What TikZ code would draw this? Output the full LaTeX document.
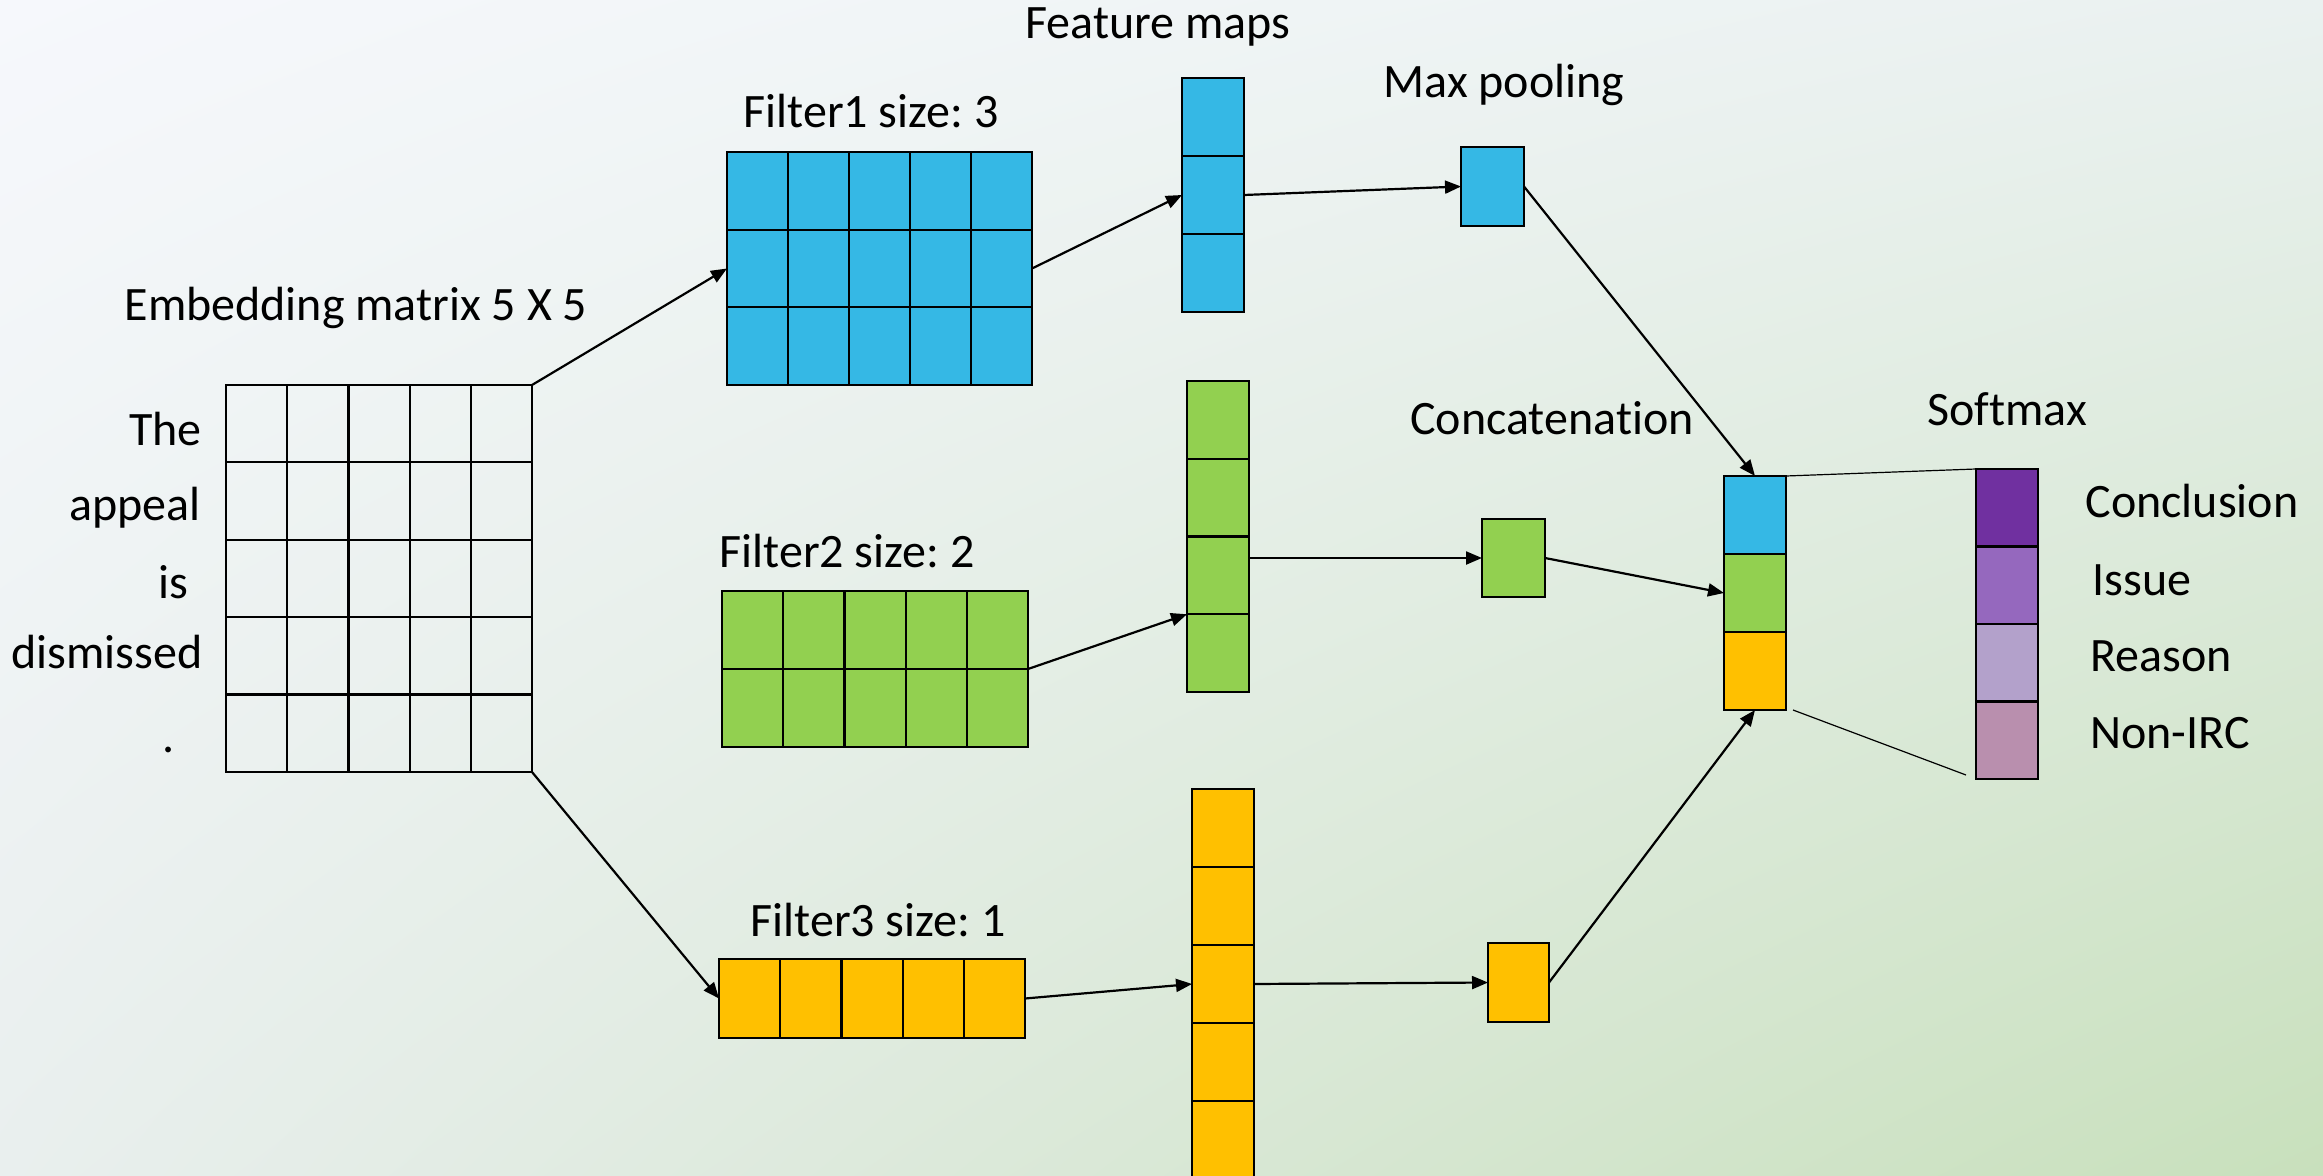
\documentclass[tikz,border=0pt]{standalone}
\usepackage{fontspec}
\setmainfont{Carlito}[Ligatures=NoCommon]
\usetikzlibrary{calc,arrows.meta,shadings}
\definecolor{bgUL}{HTML}{F6F8FC}
\definecolor{bgUR}{HTML}{EAF1F0}
\definecolor{bgLL}{HTML}{E9EFEE}
\definecolor{bgLR}{HTML}{C8E0BC}
\definecolor{cblue}{HTML}{35B8E5}
\definecolor{cgreen}{HTML}{92D050}
\definecolor{corange}{HTML}{FFC000}
\definecolor{cpurA}{HTML}{7030A0}
\definecolor{cpurB}{HTML}{9568BE}
\definecolor{cpurC}{HTML}{B3A1CB}
\definecolor{cpurD}{HTML}{B98FAE}
\frenchspacing
\newcommand\cellgrid[3]{%
  \foreach \k in {0,...,#2}
    \draw[gridline] ($(#1.north west)!\k/#2!(#1.north east)$) -- ($(#1.south west)!\k/#2!(#1.south east)$);
  \foreach \k in {0,...,#3}
    \draw[gridline] ($(#1.north west)!\k/#3!(#1.south west)$) -- ($(#1.north east)!\k/#3!(#1.south east)$);
}
\newcommand\stackcell[4]{% node, index(0-based), count, colour
  \fill[#4] ($(#1.north west)!#2/#3!(#1.south west)$) rectangle ($(#1.north east)!{(#2+1)/#3}!(#1.south east)$);
}
\begin{document}
\begin{tikzpicture}[x=0.5pt,y=-0.5pt,
  blockbox/.style={inner sep=0pt, outer sep=0pt, draw=none},
  gridline/.style={line width=1.1pt, line cap=rect, black},
  arr/.style={line width=1.1pt, -{Triangle[length=8pt,width=6.5pt]}},
  thinline/.style={line width=0.6pt},
  lbl/.style={inner sep=0pt, font=\fontsize{24pt}{28pt}\selectfont}]
\useasboundingbox (0,0) rectangle (2323,1176);
\clip (0,0) rectangle (2323,1176);
\shade[upper left=bgUL, upper right=bgUR, lower left=bgLL, lower right=bgLR] (0,0) rectangle (2323,1176);

% blocks
\node[blockbox, minimum width=153pt, minimum height=193.5pt] (emb) at (379,578.5) {};
\node[blockbox, fill=cblue, minimum width=152.5pt, minimum height=116.5pt] (f1) at (879.5,268.5) {};
\node[blockbox, fill=cgreen, minimum width=153pt, minimum height=78pt] (f2) at (875,669) {};
\node[blockbox, fill=corange, minimum width=153pt, minimum height=39.5pt] (f3) at (872,998.5) {};
\node[blockbox, fill=cblue, minimum width=31pt, minimum height=117pt] (fm1) at (1213,195) {};
\node[blockbox, fill=cgreen, minimum width=31pt, minimum height=155.5pt] (fm2) at (1218,536.5) {};
\node[blockbox, fill=corange, minimum width=31pt, minimum height=195pt] (fm3) at (1223,984) {};
\node[blockbox, fill=cblue, minimum width=31.5pt, minimum height=39.5pt] (pool1) at (1492.5,186.5) {};
\node[blockbox, fill=cgreen, minimum width=31.5pt, minimum height=39pt] (pool2) at (1513.5,558) {};
\node[blockbox, fill=corange, minimum width=30.5pt, minimum height=39.5pt] (pool3) at (1518.5,982.5) {};
\node[blockbox, minimum width=31pt, minimum height=117pt] (concat) at (1755,593) {};
\node[blockbox, minimum width=31pt, minimum height=155pt] (soft) at (2007,624) {};

\stackcell{concat}{0}{3}{cblue}
\stackcell{concat}{1}{3}{cgreen}
\stackcell{concat}{2}{3}{corange}
\stackcell{soft}{0}{4}{cpurA}
\stackcell{soft}{1}{4}{cpurB}
\stackcell{soft}{2}{4}{cpurC}
\stackcell{soft}{3}{4}{cpurD}

\cellgrid{emb}{5}{5}
\cellgrid{f1}{5}{3}
\cellgrid{f2}{5}{2}
\cellgrid{f3}{5}{1}
\cellgrid{fm1}{1}{3}
\cellgrid{fm2}{1}{4}
\cellgrid{fm3}{1}{5}
\cellgrid{pool1}{1}{1}
\cellgrid{pool2}{1}{1}
\cellgrid{pool3}{1}{1}
\cellgrid{concat}{1}{3}
\cellgrid{soft}{1}{4}

% connectors
\draw[arr] (emb.north east) -- (f1.west);
\draw[arr] (emb.south east) -- (f3.west);
\draw[arr] (f1.east) -- (fm1.west);
\draw[arr] (f2.east) -- ($(fm2.south west)!0.25!(fm2.north west)$);
\draw[arr] (f3.east) -- (fm3.west);
\draw[arr] (fm1.east) -- (pool1.west);
\draw[arr] (fm2.east |- pool2.west) -- (pool2.west);
\draw[arr] (fm3.east) -- (pool3.west);
\draw[arr] (pool1.east) -- (concat.north);
\draw[arr] (pool2.east) -- (concat.west);
\draw[arr] (pool3.east) -- (concat.south);
\draw[thinline] (concat.north east) -- (soft.north west);
\draw[thinline] ($(concat.south east)+(7,0)$) -- ($(soft.south west)+(-10,-4)$);

% labels
\node[lbl, anchor=base] (tfeat) at (1158,39) {Feature maps};
\node[lbl, anchor=base] (tf1) at (871,128) {Filter1 size: 3};
\node[lbl, anchor=base] (temb) at (356,321) {Embedding matrix 5 X 5};
\node[lbl, anchor=base] (tf2) at (847,567) {Filter2 size: 2};
\node[lbl, anchor=base] (tf3) at (878,936) {Filter3 size: 1};
\node[lbl, anchor=base] (tpool) at (1504,98) {Max pooling};
\node[lbl, anchor=base] (tconc) at (1552,435) {Concatenat\kern0pt ion};
\node[lbl, anchor=base] (tsoft) at (2007,425) {Softmax};
\node[lbl, anchor=base west] (tc1) at (2085,517) {Conclusion};
\node[lbl, anchor=base west] (tc2) at (2092,595) {Issue};
\node[lbl, anchor=base west] (tc3) at (2090,671) {Reason};
\node[lbl, anchor=base west] (tc4) at (2090,748) {Non-IRC};
\node[lbl, anchor=base east] (w1) at (202,445) {The};
\node[lbl, anchor=base east] (w2) at (201,520) {appeal};
\node[lbl, anchor=base east] (w3) at (189,598) {is};
\node[lbl, anchor=base east] (w4) at (203,668) {dismissed};
\node[lbl, anchor=base east] (w5) at (175,752) {.};
\end{tikzpicture}
\end{document}
